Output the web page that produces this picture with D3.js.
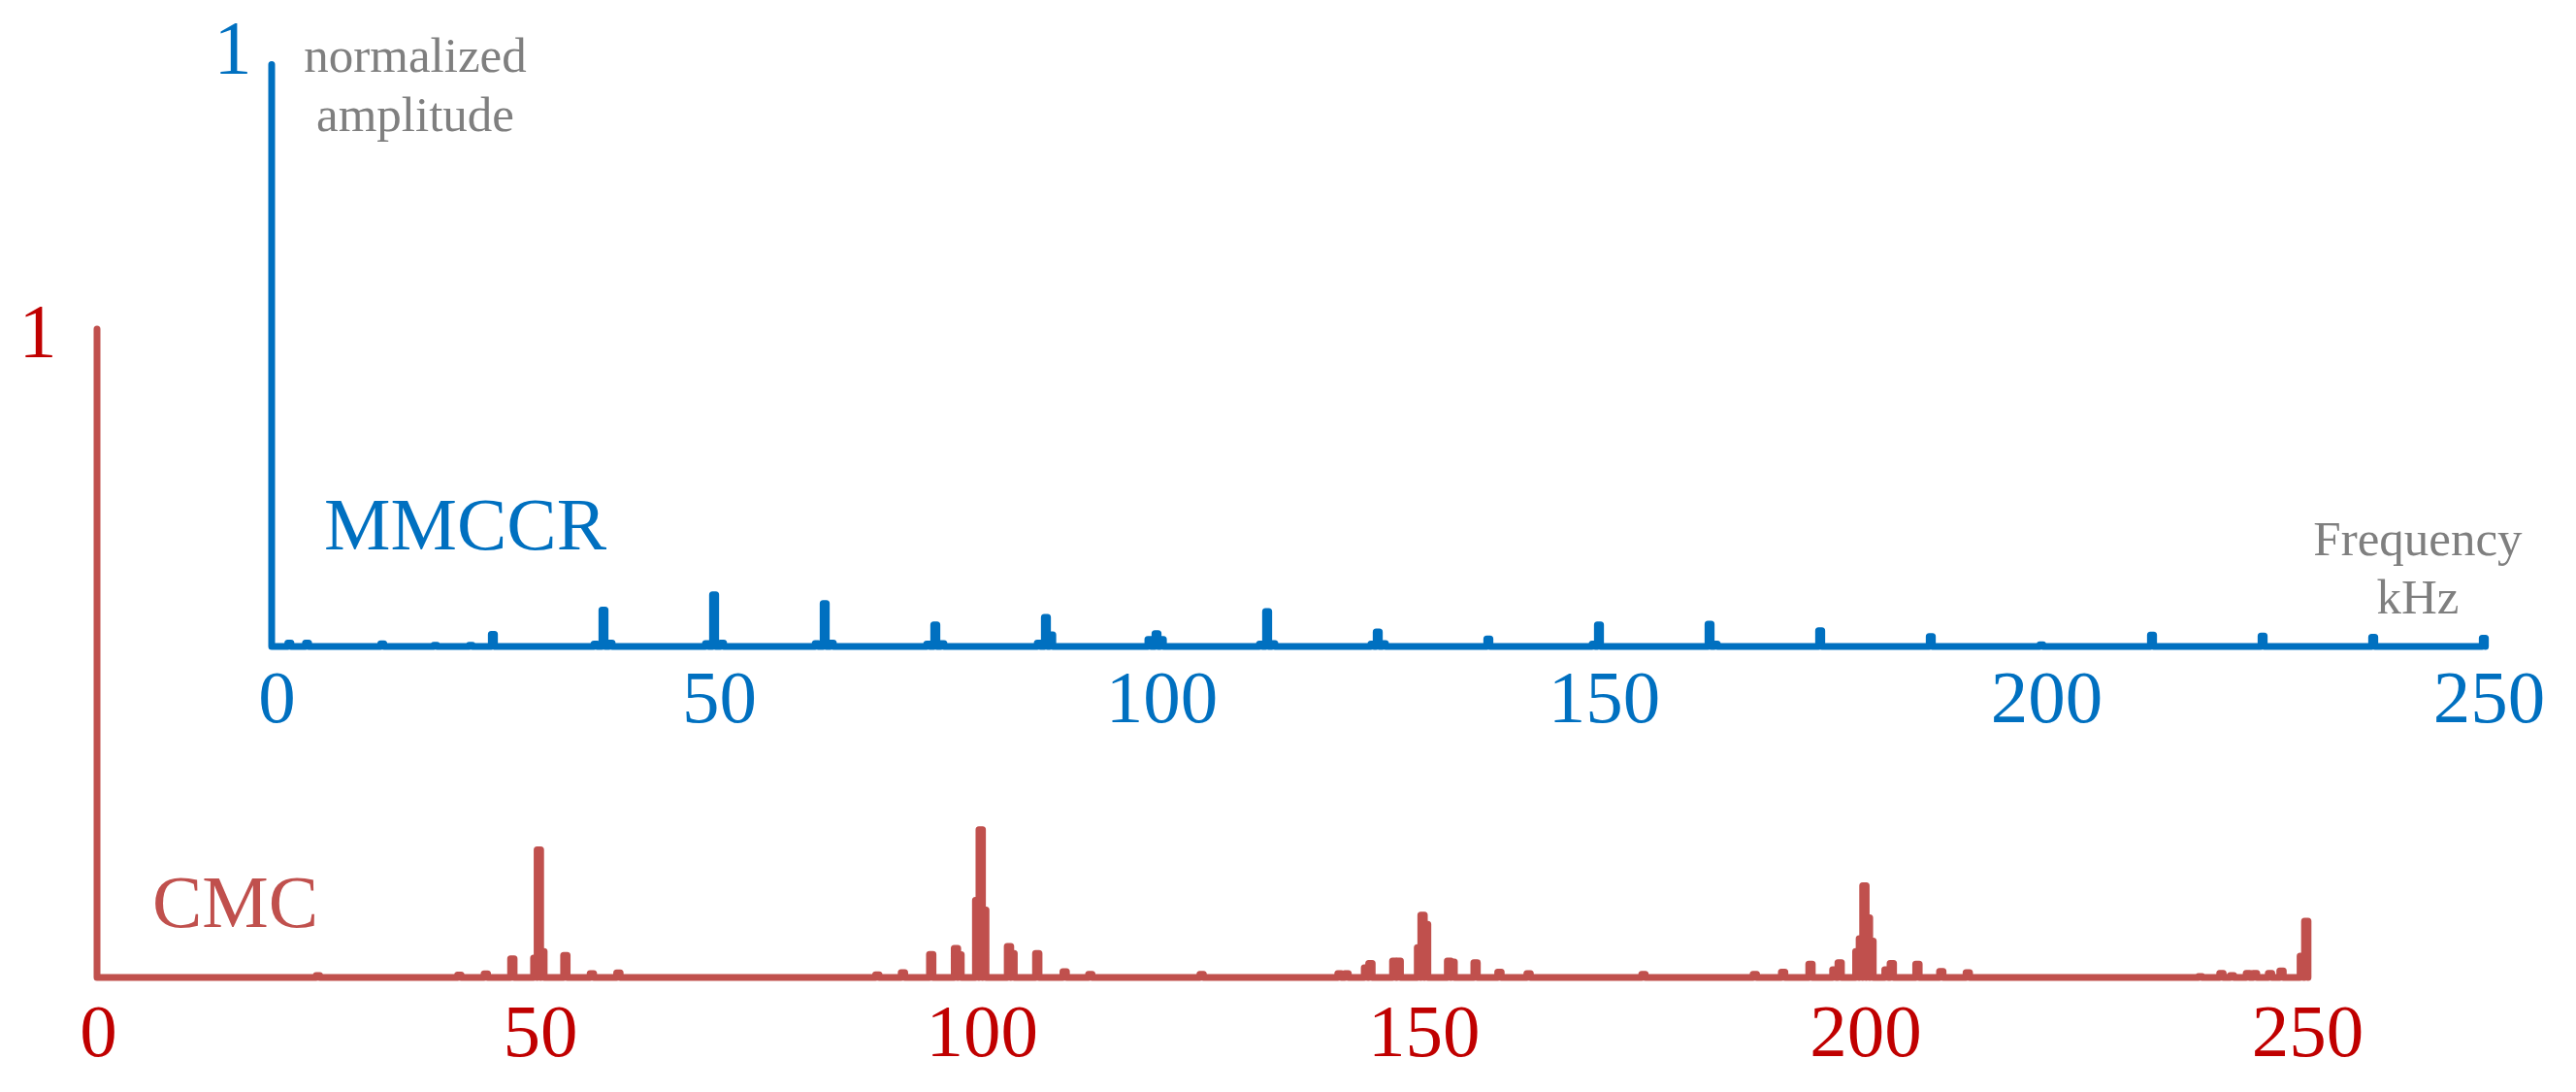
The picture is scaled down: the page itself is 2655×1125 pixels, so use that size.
<!DOCTYPE html>
<html>
<head>
<meta charset="utf-8">
<script src="https://cdn.jsdelivr.net/npm/d3@7"></script>
<style>
  body { margin: 0; background: #fff; }
  svg { display: block; }
</style>
</head>
<body>
<div id="chart"></div>
<script>
// tick labels shared by both spectra (kHz)
const ticks = [0, 50, 100, 150, 200, 250];

// MMCCR spectrum: harmonic lines (kHz) and normalized amplitude
const mmccrFreq = [0, 2, 4, 12.5, 18.5, 22.5, 25, 36.6, 37.5, 38.3, 49.2, 50, 50.9, 61.6, 62.5, 63.3, 74.2, 75, 75.8,
  86.7, 87.5, 88.1, 99.2, 100, 100.6, 111.8, 112.5, 113.2, 124.4, 125, 125.7, 137.5, 149.4, 150, 162.5, 163.2,
  175, 187.5, 200, 212.5, 225, 237.5, 250];
const mmccrAmp = [1, 0.006, 0.006, 0.0045, 0.002, 0.002, 0.021, 0.004, 0.0625, 0.006, 0.005, 0.089, 0.006, 0.005, 0.074, 0.006, 0.004, 0.037, 0.005,
  0.006, 0.05, 0.02, 0.012, 0.022, 0.012, 0.004, 0.06, 0.005, 0.004, 0.025, 0.005, 0.013, 0.004, 0.037, 0.0385, 0.004,
  0.027, 0.017, 0.003, 0.0195, 0.018, 0.016, 0.014];

// CMC spectrum: carrier groups at multiples of 50 kHz with sidebands
const cmcFreq = [0, 25, 41, 44, 47, 49.6, 50, 50.4, 53, 56, 59,
  88.3, 91.2, 94.4, 97.2, 97.6, 99.6, 100, 100.4, 103.2, 103.6, 106.4, 109.5, 112.4, 125,
  140.6, 141.4, 143.6, 144.1, 146.8, 147.3, 149.6, 150, 150.4, 153, 153.4, 156, 158.7, 162, 175,
  187.6, 190.8, 193.9, 196.6, 197.2, 199.2, 199.6, 200, 200.4, 200.8, 202.5, 203.1, 206, 208.7, 211.7,
  238, 240.4, 241.6, 243.4, 244.2, 245.9, 247.2, 249.5, 250];
const cmcAmp = [1, 0.003, 0.0036, 0.0057, 0.029, 0.03, 0.197, 0.04, 0.034, 0.006, 0.007,
  0.004, 0.0074, 0.0355, 0.045, 0.035, 0.119, 0.228, 0.104, 0.048, 0.037, 0.037, 0.009, 0.005, 0.005,
  0.006, 0.006, 0.015, 0.0217, 0.0256, 0.0256, 0.046, 0.096, 0.082, 0.0256, 0.024, 0.023, 0.0084, 0.006, 0.005,
  0.005, 0.0084, 0.0207, 0.012, 0.023, 0.04, 0.06, 0.1415, 0.092, 0.056, 0.012, 0.0217, 0.0207, 0.0094, 0.0074,
  0.0015, 0.0064, 0.003, 0.0064, 0.0064, 0.0064, 0.01, 0.033, 0.087];

const width = 2655, height = 1125;
const font = "'Liberation Serif', 'Times New Roman', serif";

const svg = d3.select("#chart")
  .append("svg")
  .attr("width", width)
  .attr("height", height);

// turn the line list into a spectrum trace
function trace(freq, amp, hw) {
  const pts = [];
  freq.forEach((f, i) => {
    const a = amp[i];
    if (f === 0) { pts.push([0, a], [0, 0]); return; }
    pts.push([f - hw, 0], [f - hw, a], [f + hw, a], [f + hw, 0]);
  });
  return pts;
}

function spectrum(opt) {
  const x = d3.scaleLinear().domain([0, 250]).range(opt.xr);
  const y = d3.scaleLinear().domain([0, 1]).range(opt.yr);

  const line = d3.line()
    .x(d => x(d[0]))
    .y(d => y(d[1]));

  svg.append("path")
    .datum(trace(opt.freq, opt.amp, opt.hw))
    .attr("d", line)
    .attr("fill", "none")
    .attr("stroke", opt.color)
    .attr("stroke-width", opt.sw)
    .attr("stroke-linejoin", "round")
    .attr("stroke-linecap", "round");

  // X axis labels only, no domain line
  const ax = svg.append("g")
    .attr("transform", `translate(0,${opt.labelY})`)
    .call(d3.axisBottom(x).tickValues(ticks).tickSize(0).tickPadding(0));
  ax.select(".domain").remove();
  ax.selectAll("text")
    .attr("y", 0)
    .attr("dy", null)
    .attr("dx", opt.labelDx)
    .attr("fill", opt.labelColor)
    .style("font-family", font)
    .style("font-size", "77px");

  // "1" at the top of the DC line
  svg.append("text")
    .attr("x", x(0) + opt.oneDx)
    .attr("y", opt.oneY)
    .attr("text-anchor", "middle")
    .attr("fill", opt.labelColor)
    .style("font-family", font)
    .style("font-size", "78px")
    .text("1");

  svg.append("text")
    .attr("x", opt.nameX)
    .attr("y", opt.nameY)
    .attr("fill", opt.color)
    .style("font-family", font)
    .style("font-size", "77px")
    .text(opt.name);
}

spectrum({
  freq: mmccrFreq, amp: mmccrAmp, hw: 0.18,
  xr: [280, 2560], yr: [666, 66.5],
  color: "#0070C0", labelColor: "#0070C0", sw: 7,
  labelY: 744, labelDx: 5,
  oneDx: -40, oneY: 75,
  name: "MMCCR", nameX: 334, nameY: 566
});

spectrum({
  freq: cmcFreq, amp: cmcAmp, hw: 0.2,
  xr: [100, 2377], yr: [1007, 339],
  color: "#C0504D", labelColor: "#C00000", sw: 7,
  labelY: 1088, labelDx: 1,
  oneDx: -61, oneY: 367,
  name: "CMC", nameX: 157, nameY: 955
});

// axis titles
const gray = "#7F7F7F";
svg.append("text")
  .attr("x", 428).attr("y", 74)
  .attr("text-anchor", "middle")
  .attr("fill", gray)
  .style("font-family", font).style("font-size", "51px")
  .text("normalized");
svg.append("text")
  .attr("x", 428).attr("y", 135)
  .attr("text-anchor", "middle")
  .attr("fill", gray)
  .style("font-family", font).style("font-size", "51px")
  .text("amplitude");
svg.append("text")
  .attr("x", 2492).attr("y", 572)
  .attr("text-anchor", "middle")
  .attr("fill", gray)
  .style("font-family", font).style("font-size", "51px")
  .text("Frequency");
svg.append("text")
  .attr("x", 2492).attr("y", 632)
  .attr("text-anchor", "middle")
  .attr("fill", gray)
  .style("font-family", font).style("font-size", "51px")
  .text("kHz");
</script>
</body>
</html>
